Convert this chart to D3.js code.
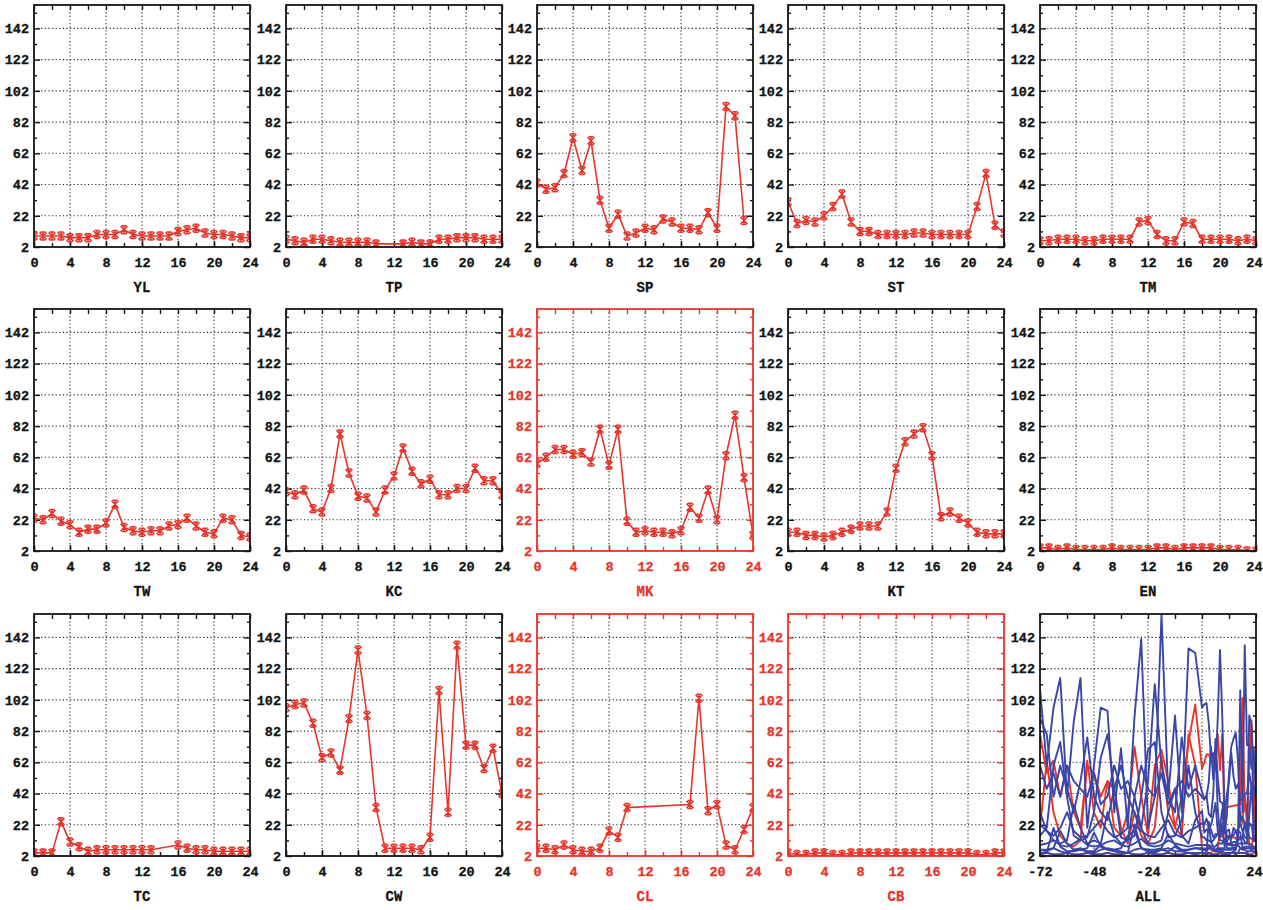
<!DOCTYPE html>
<html lang="en">
<head>
<meta charset="UTF-8">
<title>Hourly station series</title>
<script src="https://d3js.org/d3.v7.min.js"></script>
<style>
    html, body { margin: 0; background: #fff; overflow: hidden; }
    text { font-family: "Liberation Mono", "DejaVu Sans Mono", monospace; font-weight: bold; }
</style>
</head>
<body>
<svg id="svg"></svg>
<script>
    // station order, panel by panel
    const stations = ['YL', 'TP', 'SP', 'ST', 'TM', 'TW', 'KC', 'MK', 'KT', 'EN', 'TC', 'CW', 'CL', 'CB'];
    const redStations = ['MK', 'CL', 'CB'];

    const hours = d3.range(0, 25);
    const prevHours = d3.range(-72, 0, 3);
    const yTicks = [2, 22, 42, 62, 82, 102, 122, 142];
    const xTicks = [0, 4, 8, 12, 16, 20, 24];
    const allTicks = [-72, -48, -24, 0, 24];

    // values for hours 0..24 (null = no reading)
    const YL = [9, 9, 9, 9, 8, 8, 8, 10, 10, 10, 13, 10, 9, 9, 9, 9, 12, 13, 14, 11, 10, 10, 9, 8, 8];
    const TP = [7, 6, 5, 7, 7, 6, 5, 5, 5, 5, 4, null, null, 4, 5, 4, 4, 7, 7, 8, 8, 8, 7, 7, 7];
    const SP = [43, 39, 40, 49, 72, 51, 70, 32, 14, 23, 9, 11, 14, 13, 20, 18, 14, 14, 13, 24, 14, 92, 86, 19, null];
    const ST = [31, 17, 19, 18, 22, 28, 36, 18, 12, 12, 10, 10, 10, 10, 11, 11, 10, 10, 10, 10, 10, 28, 49, 16, 11];
    const TM = [6, 6, 7, 7, 7, 6, 6, 7, 7, 7, 7, 18, 19, 10, 6, 6, 18, 17, 7, 7, 7, 7, 6, 7, 6];
    const TW = [23, 22, 26, 21, 19, 14, 16, 16, 20, 32, 17, 15, 14, 15, 15, 18, 19, 23, 18, 14, 13, 23, 22, 12, 11];
    const KC = [40, 38, 41, 29, 27, 42, 77, 52, 37, 36, 27, 41, 50, 68, 53, 45, 48, 38, 38, 42, 42, 55, 47, 47, 38];
    const MK = [58, 62, 67, 67, 64, 65, 59, 80, 57, 80, 21, 14, 15, 14, 14, 13, 15, 30, 23, 41, 22, 63, 89, 49, 12];
    const KT = [14, 14, 12, 12, 11, 12, 14, 16, 18, 18, 18, 27, 55, 72, 77, 81, 63, 24, 27, 23, 20, 14, 13, 13, 13];
    const EN = [4, 4, 3, 4, 3, 3, 3, 3, 4, 3, 3, 3, 3, 4, 4, 3, 4, 4, 4, 4, 3, 3, 3, 2, 2];
    const TC = [4, 4, 4, 24, 11, 8, 5, 6, 6, 6, 6, 6, 6, 6, null, null, 9, 7, 6, 6, 5, 5, 5, 5, 5];
    const CW = [97, 99, 100, 87, 65, 68, 57, 90, 134, 92, 33, 7, 7, 7, 7, 6, 14, 108, 30, 137, 73, 73, 58, 71, 42];
    const CL = [7, 7, 6, 9, 6, 5, 5, 7, 18, 14, 33, null, null, null, null, null, null, 35, 103, 31, 35, 9, 6, 19, 33];
    const CB = [4, 3, 3, 4, 4, 3, 3, 4, 4, 4, 4, 4, 4, 4, 4, 4, 4, 4, 4, 4, 4, 3, 3, 4, 4];

    // previous 72 hours (every 3 h)
    const YL_prev = [9, 10, 12, 9, 8, 10, 13, 9, 8, 9, 11, 12, 9, 8, 10, 13, 9, 8, 9, 12, 10, 9, 8, 9];
    const TP_prev = [6, 5, 7, 5, 4, 6, 7, 5, 4, 6, 7, 6, 5, 4, 6, 7, 5, 4, 6, 7, 5, 5, 6, 7];
    const SP_prev = [90, 80, 40, 60, 45, 30, 50, 78, 40, 30, 25, 45, 60, 40, 30, 20, 50, 112, 60, 40, 30, 78, 45, 60];
    const ST_prev = [30, 18, 12, 10, 12, 35, 20, 10, 12, 10, 30, 15, 10, 12, 40, 20, 10, 10, 12, 30, 45, 15, 10, 25];
    const TM_prev = [6, 6, 7, 18, 10, 6, 6, 7, 17, 8, 6, 6, 7, 15, 18, 7, 6, 6, 7, 16, 9, 6, 6, 7];
    const TW_prev = [22, 18, 15, 20, 30, 18, 14, 15, 20, 25, 18, 14, 16, 20, 22, 18, 15, 14, 20, 25, 16, 14, 18, 20];
    const KC_prev = [60, 45, 55, 40, 60, 50, 45, 40, 55, 35, 40, 60, 45, 50, 40, 60, 45, 40, 55, 35, 45, 50, 40, 45];
    const MK_prev = [80, 55, 63, 40, 60, 30, 20, 60, 55, 40, 50, 20, 15, 30, 72, 40, 15, 60, 70, 50, 20, 40, 75, 99];
    const KT_prev = [15, 20, 60, 75, 40, 15, 12, 14, 30, 65, 80, 45, 14, 12, 15, 40, 70, 75, 30, 14, 15, 25, 60, 30];
    const EN_prev = [3, 4, 3, 3, 4, 3, 3, 4, 3, 3, 4, 3, 3, 4, 3, 3, 4, 3, 3, 4, 3, 3, 4, 3];
    const TC_prev = [4, 4, 20, 8, 5, 5, 6, 5, 5, 9, 6, 5, 4, 4, 22, 7, 5, 5, 6, 5, 8, 5, 4, 4];
    const CW_prev = [109, 60, 97, 116, 40, 88, 116, 20, 60, 97, 95, 30, 71, 20, 91, 141, 20, 40, 157, 40, 92, 30, 135, 132];
    const CL_prev = [20, 63, 30, 15, 10, 8, 12, 63, 30, 20, 50, 45, 20, 10, 30, 15, 10, 20, 65, 30, 20, 15, 80, 60];
    const CB_prev = [3, 4, 3, 3, 4, 3, 3, 4, 3, 3, 4, 3, 3, 4, 3, 3, 4, 3, 3, 4, 3, 3, 4, 3];

    const today = { YL, TP, SP, ST, TM, TW, KC, MK, KT, EN, TC, CW, CL, CB };
    const before = {
        YL: YL_prev, TP: TP_prev, SP: SP_prev, ST: ST_prev, TM: TM_prev, TW: TW_prev, KC: KC_prev,
        MK: MK_prev, KT: KT_prev, EN: EN_prev, TC: TC_prev, CW: CW_prev, CL: CL_prev, CB: CB_prev
    };

    const svg = d3.select('#svg').attr('width', 1263).attr('height', 910);
    const pw = 216, ph = 242;
    const colX = [34, 286, 537, 788, 1040];
    const rowY = [5, 309, 614];
    const red = '#e6352a', blue = '#3a45a8', ink = '#141414';

    const y = d3.scaleLinear().domain([2, 157]).range([ph, 0]);
    const line = x => d3.line().x(d => x(d[0])).y(d => y(d[1]));
    const pts = name => hours.map((h, i) => [h, today[name][i]]).filter(d => d[1] != null);

    const star = 'M-3.5,-3.5L3.5,3.5M-3.5,3.5L3.5,-3.5M0,-4L0,4M-2.5,-4L2.5,-4M-2.5,4L2.5,4';

    stations.concat(['ALL']).forEach((name, i) => {
        const isAll = name === 'ALL';
        const col = i % 5, row = Math.floor(i / 5);
        const g = svg.append('g').attr('transform', `translate(${colX[col]},${rowY[row]})`);
        const x = d3.scaleLinear().domain(isAll ? [-72, 24] : [0, 24]).range([0, pw]);
        const c = redStations.includes(name) ? red : ink;

        g.append('clipPath').attr('id', 'clip' + i)
            .append('rect').attr('width', pw).attr('height', ph);

        // dotted grid
        const xGrid = isAll ? [-48, -24, 0] : [4, 8, 12, 16, 20];
        g.selectAll('.vg').data(xGrid).join('line').attr('class', 'vg')
            .attr('x1', d => x(d)).attr('x2', d => x(d)).attr('y1', 0).attr('y2', ph);
        g.selectAll('.hg').data(yTicks.slice(1)).join('line').attr('class', 'hg')
            .attr('x1', 0).attr('x2', pw).attr('y1', d => y(d)).attr('y2', d => y(d));
        g.selectAll('.vg,.hg').attr('stroke', '#2a2a2a').attr('stroke-width', 1.1)
            .attr('stroke-dasharray', '1.2,2.4');

        // inward ticks on all four sides
        const xMinor = isAll ? d3.range(-72, 25, 12) : d3.range(0, 25, 2);
        const yMinor = d3.range(12, 157, 20);
        const fmt = d => d;
        const axes = [
            g.append('g').attr('class', 'xmajor').attr('transform', `translate(0,${ph})`)
                .call(d3.axisBottom(x).tickValues(isAll ? allTicks : xTicks).tickFormat(fmt).tickSize(-6).tickPadding(10)),
            g.append('g').attr('transform', `translate(0,${ph})`)
                .call(d3.axisBottom(x).tickValues(xMinor).tickFormat('').tickSize(-4)),
            g.append('g').call(d3.axisTop(x).tickValues(xMinor).tickFormat('').tickSize(-5)),
            g.append('g').call(d3.axisLeft(y).tickValues(yTicks).tickFormat(fmt).tickSize(-6).tickPadding(5)),
            g.append('g').call(d3.axisLeft(y).tickValues(yMinor).tickFormat('').tickSize(-3)),
            g.append('g').attr('transform', `translate(${pw},0)`)
                .call(d3.axisRight(y).tickValues(yTicks).tickFormat('').tickSize(-6)),
            g.append('g').attr('transform', `translate(${pw},0)`)
                .call(d3.axisRight(y).tickValues(yMinor).tickFormat('').tickSize(-3))
        ];
        axes.forEach(a => {
            a.select('.domain').remove();
            a.selectAll('line').attr('stroke', c).attr('stroke-width', 1.4);
            a.selectAll('text').attr('fill', c).attr('font-size', 13.5)
                .attr('stroke', c).attr('stroke-width', 0.3)
                .style('font-family', '"Liberation Mono", monospace').style('font-weight', 'bold');
        });
        // last column: keep the final "24" inside the page edge
        if (col === 4) {
            g.select('.xmajor').selectAll('.tick').filter(d => d === 24)
                .select('text').attr('text-anchor', 'end').attr('x', 6);
        }

        const plot = g.append('g').attr('clip-path', `url(#clip${i})`);
        if (isAll) {
            const order = stations.filter(s => redStations.includes(s))
                .concat(stations.filter(s => !redStations.includes(s)));
            order.forEach(s => {
                const d = prevHours.map((h, k) => [h, before[s][k]]).concat(pts(s));
                plot.append('path').datum(d)
                    .attr('d', line(x)).attr('fill', 'none')
                    .attr('stroke', redStations.includes(s) ? red : blue)
                    .attr('stroke-width', 1.9).attr('stroke-linejoin', 'round');
            });
        } else {
            const d = pts(name);
            plot.append('path').datum(d)
                .attr('d', line(x)).attr('fill', 'none')
                .attr('stroke', red).attr('stroke-width', 1.6);
            plot.selectAll('.mk').data(d).join('path').attr('class', 'mk')
                .attr('transform', p => `translate(${x(p[0])},${y(p[1])})`)
                .attr('d', star).attr('fill', 'none')
                .attr('stroke', red).attr('stroke-width', 1.5);
        }

        g.append('rect').attr('width', pw).attr('height', ph)
            .attr('fill', 'none').attr('stroke', c).attr('stroke-width', 1.8);

        g.append('text').attr('x', pw / 2).attr('y', ph + 45)
            .attr('text-anchor', 'middle').attr('font-size', 14).attr('fill', c)
            .attr('stroke', c).attr('stroke-width', 0.3)
            .text(name);
    });
</script>
</body>
</html>
